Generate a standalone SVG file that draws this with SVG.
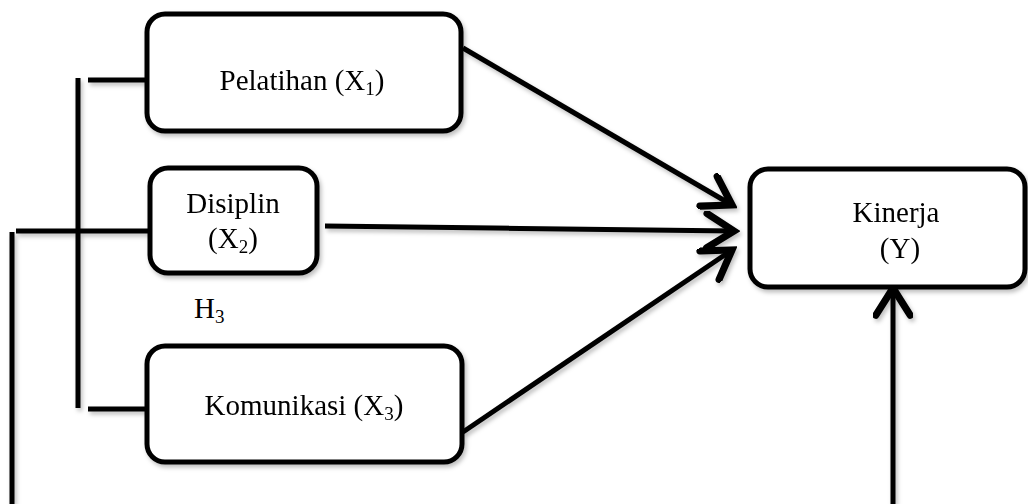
<svg xmlns="http://www.w3.org/2000/svg" width="1028" height="504" viewBox="0 0 1028 504">
  <style>
    .box { fill: #ffffff; stroke: #000000; stroke-width: 5; }
    .lbl { font-family: "Liberation Serif", "Times New Roman", serif; font-size: 29px; fill: #000000; }
    .sub { font-size: 19px; }
    .ln { stroke: #000000; stroke-width: 5; fill: none; }
    .arr { stroke: #000000; stroke-width: 5; fill: none; marker-end: url(#head); }
  </style>
  <defs>
    <marker id="head" markerUnits="userSpaceOnUse" markerWidth="40" markerHeight="40" viewBox="-24 -14 28 28" refX="0" refY="0" orient="auto">
      <path d="M -19 -12 L 0 0 L -19 12" fill="none" stroke="#000" stroke-width="5" stroke-linecap="round" stroke-linejoin="miter"/>
    </marker>
    <filter id="sh" x="-10%" y="-10%" width="130%" height="130%">
      <feDropShadow dx="2" dy="3" stdDeviation="2" flood-color="#000" flood-opacity="0.25"/>
    </filter>
  </defs>

  <g id="connectors" filter="url(#sh)">
    <line class="ln" x1="78" y1="78" x2="78" y2="408"/>
    <line class="ln" x1="88" y1="80" x2="148" y2="80"/>
    <line class="ln" x1="88" y1="409" x2="148" y2="409"/>
    <line class="ln" x1="16" y1="231" x2="158" y2="231"/>
    <line class="ln" x1="12" y1="232" x2="12" y2="504"/>
    <line class="arr" x1="463" y1="48" x2="732" y2="205"/>
    <line class="arr" x1="325" y1="226" x2="734" y2="231"/>
    <line class="arr" x1="463" y1="432" x2="732" y2="250"/>
    <line class="arr" x1="893" y1="504" x2="893" y2="288"/>
  </g>

  <g id="pelatihan" filter="url(#sh)">
    <rect class="box" x="147" y="14" width="314" height="117" rx="18"/>
    <text class="lbl" x="302" y="90" text-anchor="middle">Pelatihan (X<tspan class="sub" dy="5">1</tspan><tspan dy="-5">)</tspan></text>
  </g>

  <g id="disiplin" filter="url(#sh)">
    <rect class="box" x="150" y="168" width="167" height="105" rx="18"/>
    <text class="lbl" x="233" y="213" text-anchor="middle">Disiplin</text>
    <text class="lbl" x="233" y="248" text-anchor="middle">(X<tspan class="sub" dy="5">2</tspan><tspan dy="-5">)</tspan></text>
  </g>

  <g id="komunikasi" filter="url(#sh)">
    <rect class="box" x="147" y="346" width="315" height="116" rx="18"/>
    <text class="lbl" x="304" y="415" text-anchor="middle">Komunikasi (X<tspan class="sub" dy="5">3</tspan><tspan dy="-5">)</tspan></text>
  </g>

  <g id="kinerja" filter="url(#sh)">
    <rect class="box" x="750" y="169" width="275" height="118" rx="18"/>
    <text class="lbl" x="896" y="222" text-anchor="middle">Kinerja</text>
    <text class="lbl" x="900" y="258" text-anchor="middle">(Y)</text>
  </g>

  <g id="h3">
    <text class="lbl" x="194" y="318">H<tspan class="sub" dy="5">3</tspan></text>
  </g>
</svg>
